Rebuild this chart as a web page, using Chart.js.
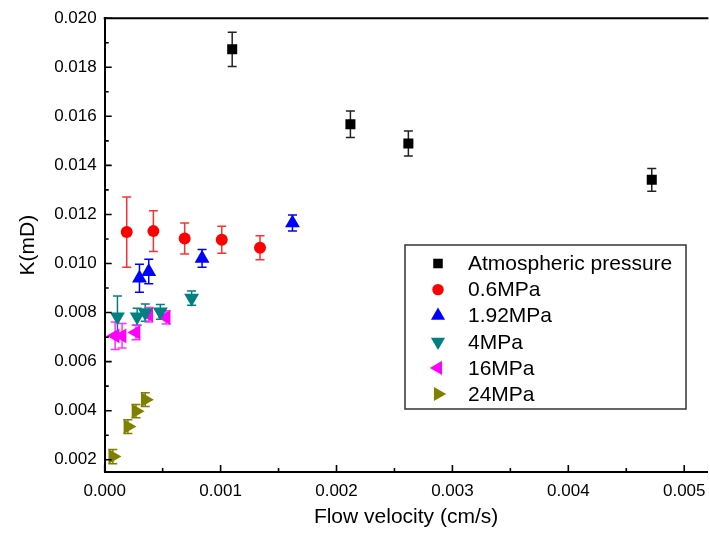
<!DOCTYPE html>
<html>
<head>
<meta charset="utf-8">
<script src="https://cdn.jsdelivr.net/npm/chart.js@4.4.1/dist/chart.umd.min.js"></script>
<style>
  html, body { margin: 0; padding: 0; background: #fff; overflow: hidden; }
  #wrap { width: 716px; height: 534px; }
</style>
</head>
<body>
<div id="wrap"><canvas id="chart_id" width="716" height="534"></canvas></div>
<script>
// permeability K (mD) vs flow velocity (cm/s), one series per confining pressure
const seriesNames = ["Atmospheric pressure", "0.6MPa", "1.92MPa", "4MPa", "16MPa", "24MPa"];

const atmX = [0.00110, 0.00212, 0.00262, 0.00472];
const atmY = [0.01873, 0.01568, 0.01489, 0.01341];
const atmErr = [0.00070, 0.00054, 0.00051, 0.00046];

const p06X = [0.00019, 0.00042, 0.00069, 0.00101, 0.00134];
const p06Y = [0.01128, 0.01132, 0.01102, 0.01097, 0.01064];
const p06Err = [0.00143, 0.00083, 0.00063, 0.00055, 0.00049];

const p192X = [0.00030, 0.00038, 0.00084, 0.00162];
const p192Y = [0.00940, 0.00967, 0.01021, 0.01165];
const p192Err = [0.00057, 0.00050, 0.00036, 0.00033];

const p4X = [0.00011, 0.00028, 0.00035, 0.00048, 0.00075];
const p4Y = [0.00783, 0.00783, 0.00800, 0.00803, 0.00859];
const p4Err = [0.00084, 0.00035, 0.00035, 0.00030, 0.00029];

const p16X = [0.00009, 0.00015, 0.00027, 0.00038, 0.00053];
const p16Y = [0.00705, 0.00705, 0.00719, 0.00791, 0.00780];
const p16Err = [0.00056, 0.00050, 0.00030, 0.00030, 0.00027];

const p24X = [0.00007, 0.00020, 0.00027, 0.00035];
const p24Y = [0.00213, 0.00335, 0.00398, 0.00445];
const p24Err = [0.00029, 0.00028, 0.00027, 0.00028];

const xTicks = [0, 0.001, 0.002, 0.003, 0.004, 0.005];
const yTicks = [0.002, 0.004, 0.006, 0.008, 0.010, 0.012, 0.014, 0.016, 0.018, 0.020];

const FONT = "'Liberation Sans', Arial, sans-serif";
Chart.defaults.font.family = FONT;
Chart.defaults.color = "#000";

function pts(xs, ys, errs) {
  return xs.map((x, i) => ({ x: x, y: ys[i], err: errs[i] }));
}

function makeSet(label, xs, ys, errs, color, barColor, style, rotation, radius) {
  return {
    label: label,
    data: pts(xs, ys, errs),
    backgroundColor: color,
    borderColor: color,
    borderWidth: 0,
    pointStyle: style,
    rotation: rotation,
    pointRadius: radius,
    pointHoverRadius: radius,
    barColor: barColor,
    showLine: false
  };
}

const datasets = [
  makeSet(seriesNames[0], atmX, atmY, atmErr, "#000000", "#222222", "rect", 0, 7.1),
  makeSet(seriesNames[1], p06X, p06Y, p06Err, "#ff0000", "#ff3030", "circle", 0, 6),
  makeSet(seriesNames[2], p192X, p192Y, p192Err, "#0000ff", "#0000ff", "triangle", 0, 8.6),
  makeSet(seriesNames[3], p4X, p4Y, p4Err, "#008080", "#008080", "triangle", 180, 8.6),
  makeSet(seriesNames[4], p16X, p16Y, p16Err, "#ff00ff", "#ff33ff", "triangle", -90, 8.6),
  makeSet(seriesNames[5], p24X, p24Y, p24Err, "#808000", "#808000", "triangle", 90, 8.6)
];

// vertical error bars with caps, drawn under the markers
const errorBars = {
  id: "errorBars",
  beforeDatasetsDraw(chart) {
    const ctx = chart.ctx;
    const xs = chart.scales.x, ys = chart.scales.y;
    ctx.save();
    ctx.lineWidth = 1.5;
    chart.data.datasets.forEach((ds) => {
      ctx.strokeStyle = ds.barColor;
      ds.data.forEach((p) => {
        const px = xs.getPixelForValue(p.x);
        const top = ys.getPixelForValue(p.y + p.err);
        const bot = ys.getPixelForValue(p.y - p.err);
        ctx.beginPath();
        ctx.moveTo(px, top); ctx.lineTo(px, bot);
        ctx.moveTo(px - 4.5, top); ctx.lineTo(px + 4.5, top);
        ctx.moveTo(px - 4.5, bot); ctx.lineTo(px + 4.5, bot);
        ctx.stroke();
      });
    });
    ctx.restore();
  }
};

// top frame line and inward major/minor ticks
const frameTicks = {
  id: "frameTicks",
  afterDraw(chart) {
    const ctx = chart.ctx;
    const a = chart.chartArea;
    const xs = chart.scales.x, ys = chart.scales.y;
    ctx.save();
    ctx.strokeStyle = "#000";
    ctx.lineWidth = 2;
    ctx.beginPath();
    ctx.moveTo(a.left - 1, a.top);
    ctx.lineTo(a.right + 1, a.top);
    ctx.stroke();

    ctx.lineWidth = 1.6;
    ctx.beginPath();
    xTicks.forEach((v) => {
      const px = xs.getPixelForValue(v);
      ctx.moveTo(px, a.bottom); ctx.lineTo(px, a.bottom - 7);
      const mid = xs.getPixelForValue(v + 0.0005);
      if (mid < a.right) { ctx.moveTo(mid, a.bottom); ctx.lineTo(mid, a.bottom - 4); }
    });
    yTicks.forEach((v) => {
      const py = ys.getPixelForValue(v);
      ctx.moveTo(a.left, py); ctx.lineTo(a.left + 7, py);
      const mid = ys.getPixelForValue(v - 0.001);
      if (mid < a.bottom) { ctx.moveTo(a.left, mid); ctx.lineTo(a.left + 4, mid); }
    });
    ctx.stroke();
    ctx.restore();
  }
};

// boxed legend inside the plot
const boxLegend = {
  id: "boxLegend",
  afterDraw(chart) {
    const ctx = chart.ctx;
    const bx = 405, by = 245, bw = 281, bh = 164;
    ctx.save();
    ctx.fillStyle = "#fff";
    ctx.fillRect(bx, by, bw, bh);
    ctx.strokeStyle = "#333";
    ctx.lineWidth = 1.5;
    ctx.strokeRect(bx, by, bw, bh);
    ctx.font = "21px " + FONT;
    ctx.textBaseline = "middle";
    chart.data.datasets.forEach((ds, i) => {
      const y = 263.5 + i * 26.1;
      ctx.fillStyle = ds.backgroundColor;
      ctx.strokeStyle = ds.backgroundColor;
      Chart.helpers.drawPoint(ctx, {
        pointStyle: ds.pointStyle,
        rotation: ds.rotation,
        radius: ds.pointRadius * 0.95,
        borderWidth: 0
      }, 438, y);
      ctx.fillStyle = "#000";
      ctx.fillText(ds.label, 468, y + 1);
    });
    ctx.restore();
  }
};

new Chart(document.getElementById("chart_id"), {
  type: "scatter",
  data: { datasets: datasets },
  plugins: [errorBars, frameTicks, boxLegend],
  options: {
    responsive: false,
    animation: false,
    layout: { padding: { top: 16.5, right: 5, bottom: 0, left: 0 } },
    plugins: { legend: { display: false }, tooltip: { enabled: false } },
    scales: {
      x: {
        type: "linear",
        min: 0,
        max: 0.0052,
        afterBuildTicks: (scale) => { scale.ticks = xTicks.map((v) => ({ value: v })); },
        afterFit: (scale) => { scale.height = 62; },
        grid: { display: false, drawTicks: false },
        border: { display: true, color: "#000", width: 2 },
        ticks: {
          font: { size: 17 },
          padding: 9,
          maxRotation: 0,
          callback: (v) => Number(v).toFixed(3)
        },
        title: {
          display: true,
          text: "Flow velocity (cm/s)",
          font: { size: 21 },
          padding: { top: 0, bottom: 4 }
        }
      },
      y: {
        type: "linear",
        min: 0.0015,
        max: 0.020,
        afterBuildTicks: (scale) => { scale.ticks = yTicks.map((v) => ({ value: v })); },
        afterFit: (scale) => { scale.width = 104.7; },
        grid: { display: false, drawTicks: false },
        border: { display: true, color: "#000", width: 2 },
        ticks: {
          font: { size: 17 },
          padding: 8,
          callback: (v) => Number(v).toFixed(3)
        },
        title: {
          display: true,
          text: "K(mD)",
          font: { size: 21 },
          padding: { top: 16, bottom: 0 }
        }
      }
    }
  }
});
</script>
</body>
</html>
